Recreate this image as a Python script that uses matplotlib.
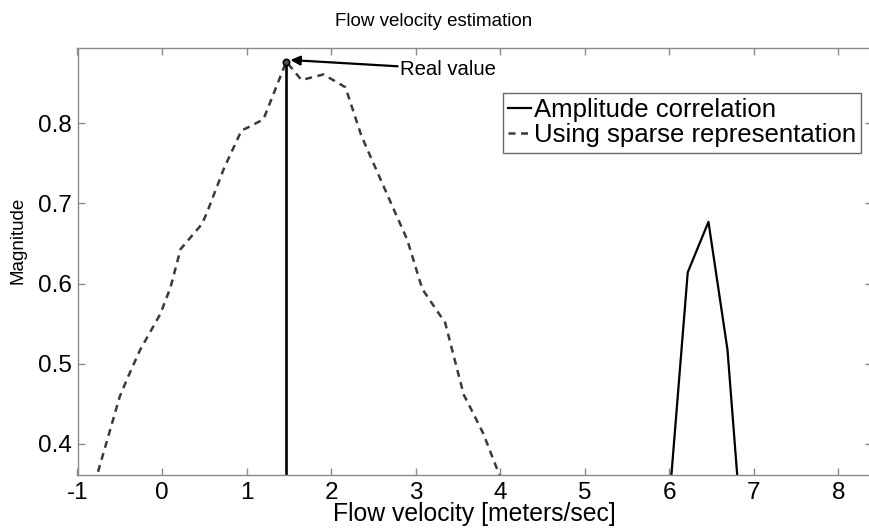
import matplotlib.pyplot as plt

plt.rcParams['font.family'] = ['Liberation Sans', 'DejaVu Sans']
plt.rcParams['axes.unicode_minus'] = False

# sparse representation estimate (dashed)
sparse_x = [-0.88, -0.5, -0.4, -0.26, -0.02, 0.1, 0.22, 0.47, 0.53, 0.73, 0.94, 1.02,
            1.2, 1.47, 1.65, 1.91, 2.17, 2.36, 2.74, 2.9, 3.08, 3.35, 3.57, 3.62, 3.8, 4.05]
sparse_y = [0.32, 0.459, 0.484, 0.517, 0.562, 0.595, 0.643, 0.674, 0.688, 0.743, 0.791, 0.795,
            0.805, 0.877, 0.854, 0.861, 0.845, 0.784, 0.693, 0.655, 0.593, 0.551, 0.461, 0.451, 0.413, 0.345]

# amplitude correlation (solid)
amp_x = [5.98, 6.22, 6.465, 6.69, 6.85]
amp_y = [0.30, 0.614, 0.677, 0.5175, 0.30]

# real value
real_x = 1.47
real_y = 0.877

xticks = [-1, 0, 1, 2, 3, 4, 5, 6, 7, 8]
yticks = [0.4, 0.5, 0.6, 0.7, 0.8]

fig = plt.figure(figsize=(8.69, 5.31), dpi=100)
ax = fig.add_axes([77.5 / 869, 56 / 531, (872 - 77.5) / 869, 427 / 531])

ax.plot(amp_x, amp_y, color='black', lw=1.6, label='Amplitude correlation')
ax.plot(sparse_x, sparse_y, color='#3a3a3a', lw=1.8, dashes=(2.8, 2.2),
        label='Using sparse representation')
ax.vlines(real_x, 0, real_y, color='black', lw=1.9)
ax.plot([real_x], [real_y], 'o', ms=4.5, mfc='#555555', mec='black', mew=1.2)

ax.annotate('Real value', xy=(real_x + 0.05, real_y + 0.002), xytext=(2.82, 0.8675),
            fontsize=14.6, va='center', ha='left',
            arrowprops=dict(arrowstyle='-|>', color='black', lw=1.6,
                            shrinkA=0, shrinkB=0, mutation_scale=14))

ax.set_xlim(-1, 8.4)
ax.set_ylim(0.361, 0.894)
ax.set_xticks(xticks)
ax.set_yticks(yticks)
ax.set_xticklabels([str(t) for t in xticks])
ax.set_yticklabels([str(t) for t in yticks])

for s in ax.spines.values():
    s.set_color('#8a8a8a')
    s.set_linewidth(1.0)
ax.tick_params(direction='in', length=5, width=1, color='#8a8a8a', labelsize=17.5,
               top=True, right=True)
ax.tick_params(axis='x', pad=5)
ax.tick_params(axis='y', pad=4)

ax.set_xlabel('Flow velocity [meters/sec]', fontsize=17.8)
ax.xaxis.set_label_coords(0.5, -0.092)
ax.xaxis.label.set_va('center')

fig.text(18 / 869, 1 - 240 / 531, 'Magnitude', rotation=90, fontsize=13.5,
         ha='center', va='center')
fig.text(434 / 869, 1 - 21 / 531, 'Flow velocity estimation', fontsize=13.5,
         ha='center', va='center')

leg = ax.legend(loc='upper right', bbox_to_anchor=((861 - 77.5) / 794.5, (475 - 93) / 427),
                fontsize=18.5, handlelength=0.9, handletextpad=0.1, borderpad=0.2,
                labelspacing=0.05, fancybox=False, frameon=True, borderaxespad=0)
leg.get_frame().set_edgecolor('#444444')
leg.get_frame().set_linewidth(1.0)

fig.savefig('out.png', dpi=100)
